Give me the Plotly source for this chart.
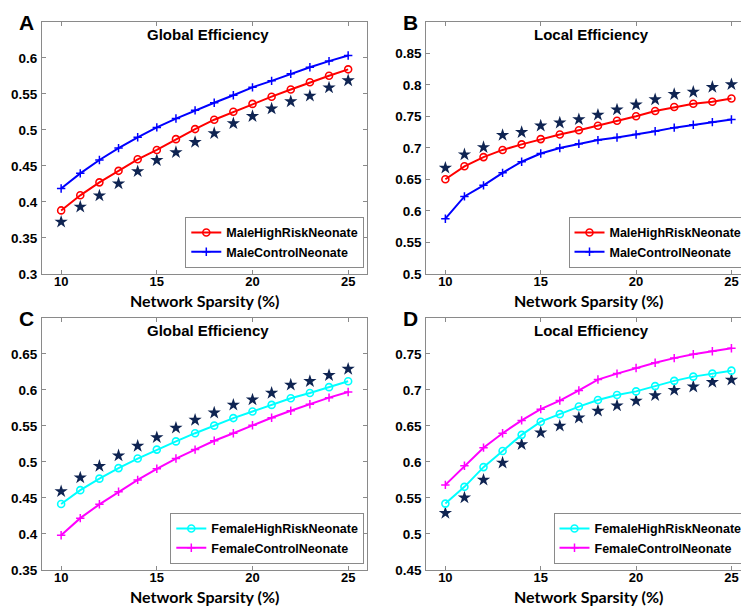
import plotly.graph_objects as go

sparsity = list(range(10, 26))

# Panel A: Male, Global efficiency
a_highrisk = [0.388, 0.409, 0.427, 0.443, 0.459, 0.472, 0.487, 0.501, 0.514, 0.525, 0.536, 0.546, 0.556, 0.566, 0.575, 0.584]
a_control = [0.4185, 0.4395, 0.458, 0.4746, 0.4896, 0.5033, 0.5156, 0.527, 0.5375, 0.548, 0.559, 0.568, 0.5777, 0.5868, 0.5954, 0.6032]
a_star = [0.372, 0.393, 0.4085, 0.4253, 0.4422, 0.4577, 0.4687, 0.4828, 0.4951, 0.5088, 0.5188, 0.5293, 0.5393, 0.5471, 0.5585, 0.5685]

# Panel B: Male, Local efficiency
b_highrisk = [0.650, 0.6706, 0.6852, 0.6966, 0.7054, 0.7138, 0.721, 0.7278, 0.735, 0.7429, 0.750, 0.7585, 0.7647, 0.7699, 0.773, 0.7782]
b_control = [0.5874, 0.6228, 0.6404, 0.6602, 0.6779, 0.6909, 0.6997, 0.7065, 0.7122, 0.7164, 0.721, 0.7262, 0.732, 0.7366, 0.7408, 0.745]
b_star = [0.668, 0.6893, 0.7008, 0.720, 0.7247, 0.735, 0.7398, 0.745, 0.7522, 0.7606, 0.7684, 0.7767, 0.785, 0.7886, 0.7964, 0.8006]

# Panel C: Female, Global efficiency
c_highrisk = [0.4415, 0.4607, 0.4767, 0.4913, 0.5046, 0.517, 0.5284, 0.5398, 0.5503, 0.5608, 0.570, 0.5791, 0.5883, 0.5956, 0.6038, 0.612]
c_control = [0.398, 0.4218, 0.441, 0.4584, 0.4749, 0.4904, 0.5046, 0.517, 0.5293, 0.5398, 0.5508, 0.5613, 0.5709, 0.580, 0.5892, 0.597]
c_star = [0.4589, 0.478, 0.4941, 0.5087, 0.522, 0.5339, 0.5471, 0.5581, 0.5682, 0.5791, 0.5864, 0.5956, 0.607, 0.612, 0.6203, 0.629]

# Panel D: Female, Local efficiency
d_highrisk = [0.542, 0.5653, 0.5927, 0.6151, 0.6375, 0.6558, 0.6663, 0.6768, 0.686, 0.6928, 0.6979, 0.7052, 0.7125, 0.7184, 0.7226, 0.7267]
d_control = [0.568, 0.5945, 0.6197, 0.6398, 0.6576, 0.6732, 0.6851, 0.6992, 0.7143, 0.7226, 0.7303, 0.7377, 0.7441, 0.7495, 0.7537, 0.7578]
d_star = [0.5287, 0.5502, 0.5749, 0.5987, 0.6243, 0.6407, 0.6499, 0.6613, 0.6709, 0.6782, 0.6846, 0.6924, 0.6997, 0.7043, 0.7107, 0.7139]

x_ticks = [10, 15, 20, 25]
a_yticks = ["0.3", "0.35", "0.4", "0.45", "0.5", "0.55", "0.6"]
b_yticks = ["0.5", "0.55", "0.6", "0.65", "0.7", "0.75", "0.8", "0.85"]
c_yticks = ["0.35", "0.4", "0.45", "0.5", "0.55", "0.6", "0.65"]
d_yticks = ["0.45", "0.5", "0.55", "0.6", "0.65", "0.7", "0.75"]

panel_titles = ["Global Efficiency", "Local Efficiency", "Global Efficiency", "Local Efficiency"]
panel_letters = ["A", "B", "C", "D"]
legend_names = [
    ("MaleHighRiskNeonate", "MaleControlNeonate"),
    ("MaleHighRiskNeonate", "MaleControlNeonate"),
    ("FemaleHighRiskNeonate", "FemaleControlNeonate"),
    ("FemaleHighRiskNeonate", "FemaleControlNeonate"),
]

W, H = 749, 610
AX = "#8a8a8a"
STAR = "#0f2452"
FONT = "Liberation Sans, Arial, sans-serif"

# pixel boxes (left, right, top, bottom)
boxes = [(34, 359.3, 14, 269.3), (418.3, 742.5, 14, 269.3),
         (34, 359.3, 314, 569.3), (418.3, 742.5, 314, 569.3)]
yranges = [(0.3, 0.65), (0.5, 0.9), (0.35, 0.70), (0.45, 0.80)]
yticks = [a_yticks, b_yticks, c_yticks, d_yticks]
series = [(a_highrisk, a_control, a_star), (b_highrisk, b_control, b_star),
          (c_highrisk, c_control, c_star), (d_highrisk, d_control, d_star)]
colors = [("#ff0000", "#0000ff"), ("#ff0000", "#0000ff"),
          ("#00ffff", "#ff00ff"), ("#00ffff", "#ff00ff")]

fig = go.Figure()
layout = dict(width=W, height=H, margin=dict(l=0, r=0, t=0, b=0),
              paper_bgcolor="white", plot_bgcolor="white", showlegend=True,
              font=dict(family=FONT, color="black"))
annotations = []

for i in range(4):
    n = "" if i == 0 else str(i + 1)
    xa, ya = "x" + n, "y" + n
    lg = "legend" + n
    l, r, t, b = boxes[i]
    hr, ct, st = series[i]
    c1, c2 = colors[i]
    fig.add_trace(go.Scatter(x=sparsity, y=st, mode="markers", xaxis=xa, yaxis=ya,
                             marker=dict(symbol="star", size=10, color=STAR, line=dict(width=0)),
                             showlegend=False, legend=lg))
    fig.add_trace(go.Scatter(x=sparsity, y=hr, mode="lines+markers", name=legend_names[i][0],
                             xaxis=xa, yaxis=ya, legend=lg,
                             line=dict(color=c1, width=2),
                             marker=dict(symbol="circle-open", size=7, color=c1, line=dict(width=1.6))))
    fig.add_trace(go.Scatter(x=sparsity, y=ct, mode="lines+markers", name=legend_names[i][1],
                             xaxis=xa, yaxis=ya, legend=lg,
                             line=dict(color=c2, width=2),
                             marker=dict(symbol="cross-thin-open", size=6, color=c2, line=dict(width=1.5, color=c2))))
    y0, y1 = yranges[i]
    tv = [float(s) for s in yticks[i]]
    layout["xaxis" + n] = dict(domain=[l / W, r / W], range=[9, 26], anchor=ya,
                               tickvals=x_ticks, ticktext=[str(v) for v in x_ticks],
                               showline=True, linecolor=AX, linewidth=1, mirror="ticks",
                               ticks="inside", ticklen=4, tickcolor=AX, showgrid=False, zeroline=False,
                               ticklabelstandoff=-4,
                               tickfont=dict(family=FONT, size=13, color="black", weight="bold"))
    layout["yaxis" + n] = dict(domain=[1 - b / H, 1 - t / H], range=[y0, y1], anchor=xa,
                               tickvals=tv, ticktext=yticks[i],
                               showline=True, linecolor=AX, linewidth=1, mirror="ticks",
                               ticks="inside", ticklen=4, tickcolor=AX, showgrid=False, zeroline=False,
                               ticklabelstandoff=1,
                               tickfont=dict(family=FONT, size=13.5, color="black", weight="bold"))
    legend_right = (r - 3) / W
    legend_bottom = 1 - (b - 6) / H
    layout[lg] = dict(x=legend_right, y=legend_bottom, xanchor="right", yanchor="bottom",
                      bgcolor="white", bordercolor=AX, borderwidth=1, tracegroupgap=0,
                      itemwidth=30,
                      font=dict(family=FONT, size=12.5, color="black", weight="bold"))
    cx = (l + r) / 2
    annotations.append(dict(x=cx / W + 0.004, y=1 - (t + 13) / H, xref="paper", yref="paper",
                            text="<b>" + panel_titles[i] + "</b>", showarrow=False,
                            xanchor="center", yanchor="middle",
                            font=dict(family=FONT, size=15, color="black")))
    annotations.append(dict(x=cx / W, y=1 - (b + 27) / H, xref="paper", yref="paper",
                            text="<b>Network Sparsity (%)</b>", showarrow=False,
                            xanchor="center", yanchor="middle",
                            font=dict(family="Lato, sans-serif", size=16, color="black")))
    annotations.append(dict(x=(l - 16) / W, y=1 - (t + 1) / H, xref="paper", yref="paper",
                            text="<b>" + panel_letters[i] + "</b>", showarrow=False,
                            xanchor="center", yanchor="middle",
                            font=dict(family=FONT, size=21, color="black")))

layout["annotations"] = annotations
fig.update_layout(**layout)
fig.write_html("out.html")
